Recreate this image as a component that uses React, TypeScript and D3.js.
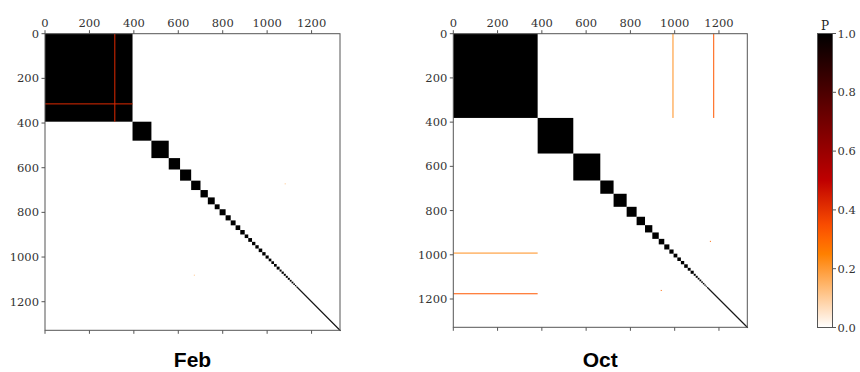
import React from 'react';
import * as d3 from 'd3';

// matrix size (items) and cluster block sizes along the diagonal
const N = 1328;
const months = ['Feb', 'Oct'];
const febBlocks = [394, 85, 78, 51, 50, 42, 33, 31, 22, 27, 23, 22, 21, 20, 16, 17, 15, 15, 16, 15, 14, 12, 12, 12, 13, 9, 10, 9, 9, 9, 8, 8, 7, 6];
const octBlocks = [381, 161, 122, 60, 59, 45, 38, 33, 29, 25, 23, 19, 17, 16, 15, 16, 13, 14, 9, 9, 8, 8, 7, 7, 6, 5];

// row + column strips (symmetric) : item index, range of the other index, probability
const febStrips = [{index: 312, from: 0, to: 394, p: 0.42}];
const octStrips = [
  {index: 990, from: 0, to: 381, p: 0.22},
  {index: 1174, from: 0, to: 381, p: 0.33}
];
// isolated cells (symmetric pairs)
const febDots = [{row: 670, col: 1079, p: 0.12}];
const octDots = [{row: 937, col: 1159, p: 0.3}];

const tickValues = [0, 200, 400, 600, 800, 1000, 1200];
const cbarTicks = [0, 0.2, 0.4, 0.6, 0.8, 1.0];

// gist_heat reversed
const heat = (v: number) => {
  const x = 1 - v;
  const c = (t: number) => Math.round(255 * Math.max(0, Math.min(1, t)));
  return `rgb(${c(1.5 * x)},${c(2 * x - 1)},${c(4 * x - 3)})`;
};

const FONT = '"DejaVu Serif", serif';
const AXIS = '#555';
const LABEL = '#333';

type Strip = {index: number; from: number; to: number; p: number};
type Dot = {row: number; col: number; p: number};

function Panel({x0, y0, w, h, blocks, strips, dots, title, clipId}: {
  x0: number; y0: number; w: number; h: number; blocks: number[];
  strips: Strip[]; dots: Dot[]; title: string; clipId: string;
}) {
  const x = d3.scaleLinear().domain([0, N]).range([0, w]);
  const y = d3.scaleLinear().domain([0, N]).range([0, h]);

  // cumulative starts of the blocks, remaining items are singletons
  const sizes = [...blocks];
  const used = d3.sum(blocks);
  for (let i = used; i < N; i++) sizes.push(1);
  const starts = d3.cumsum([0, ...sizes]);

  const minPx = 1;
  return (
    <g clipPath={`url(#${clipId})`}>
      <g transform={`translate(${x0},${y0})`}>
        <rect width={w} height={h} fill="#fff" />
        {sizes.map((s, i) => {
          const a = starts[i];
          const bw = Math.max(x(a + s) - x(a), minPx);
          const bh = Math.max(y(a + s) - y(a), minPx);
          return (
            <rect key={i} x={x(a)} y={y(a)} width={bw} height={bh}
              fill="#000" opacity={s === 1 ? 0.6 : 1} />
          );
        })}
        {strips.map((d, i) => (
          <g key={i} fill={heat(d.p)}>
            <rect x={x(d.index)} y={y(d.from)} width={Math.max(x(1), 1)} height={y(d.to) - y(d.from)} />
            <rect x={x(d.from)} y={y(d.index)} width={x(d.to) - x(d.from)} height={Math.max(y(1), 1)} />
          </g>
        ))}
        {dots.map((d, i) => (
          <g key={i} fill={heat(d.p)}>
            <rect x={x(d.col)} y={y(d.row)} width={1} height={1} />
            <rect x={x(d.row)} y={y(d.col)} width={1} height={1} />
          </g>
        ))}
        <rect width={w} height={h} fill="none" stroke={AXIS} strokeWidth={1} />
        {/* top axis */}
        {tickValues.map(t => (
          <g key={'t' + t} transform={`translate(${x(t)},0)`}>
            <line y1={0} y2={-3.5} stroke={AXIS} />
            <text y={-7} textAnchor="middle" fontFamily={FONT} fontSize={11.5} fill={LABEL}>{t}</text>
          </g>
        ))}
        {/* left axis */}
        {tickValues.map(t => (
          <g key={'l' + t} transform={`translate(0,${y(t)})`}>
            <line x1={0} x2={-3.5} stroke={AXIS} />
            <text x={-6} dy="0.35em" textAnchor="end" fontFamily={FONT} fontSize={11.5} fill={LABEL}>{t}</text>
          </g>
        ))}
        {/* bottom ticks without labels */}
        {tickValues.map(t => (
          <line key={'b' + t} x1={x(t)} x2={x(t)} y1={h} y2={h + 3.5} stroke={AXIS} />
        ))}
        <text x={w / 2} y={367 - y0} textAnchor="middle"
          fontFamily='"Liberation Sans", Arial, sans-serif' fontWeight="bold" fontSize={21} fill="#000">
          {title}
        </text>
      </g>
    </g>
  );
}

export default function App() {
  const cb = {x: 817.5, y: 33.5, w: 15, h: 294};
  const cy = d3.scaleLinear().domain([0, 1]).range([cb.y + cb.h, cb.y]);
  const stops = d3.range(0, 1.0001, 0.05);
  return (
    <svg width={860} height={372} style={{position: 'absolute', left: 0, top: 0}}>
      <defs>
        <clipPath id="clipFeb"><rect x={10} y={0} width={390} height={372} /></clipPath>
        <clipPath id="clipOct"><rect x={400} y={0} width={400} height={372} /></clipPath>
        <linearGradient id="cbar" x1="0" y1="1" x2="0" y2="0">
          {stops.map(s => <stop key={s} offset={s} stopColor={heat(s)} />)}
        </linearGradient>
      </defs>
      <rect width={860} height={372} fill="#fff" />
      <Panel x0={45} y0={33.7} w={295} h={296.6} blocks={febBlocks}
        strips={febStrips} dots={febDots} title={months[0]} clipId="clipFeb" />
      <Panel x0={453.3} y0={33.7} w={294} h={293.6} blocks={octBlocks}
        strips={octStrips} dots={octDots} title={months[1]} clipId="clipOct" />
      <rect x={cb.x} y={cb.y} width={cb.w} height={cb.h} fill="url(#cbar)" stroke={AXIS} />
      {cbarTicks.map(t => (
        <g key={t} transform={`translate(${cb.x + cb.w},${cy(t)})`}>
          <line x1={0} x2={3.5} stroke={AXIS} />
          <text x={5} dy="0.35em" fontFamily={FONT} fontSize={11.5} fill={LABEL}>{t.toFixed(1)}</text>
        </g>
      ))}
      <text x={cb.x + cb.w / 2} y={cb.y - 4} textAnchor="middle" fontFamily={FONT} fontSize={12} fill="#222">P</text>
    </svg>
  );
}
